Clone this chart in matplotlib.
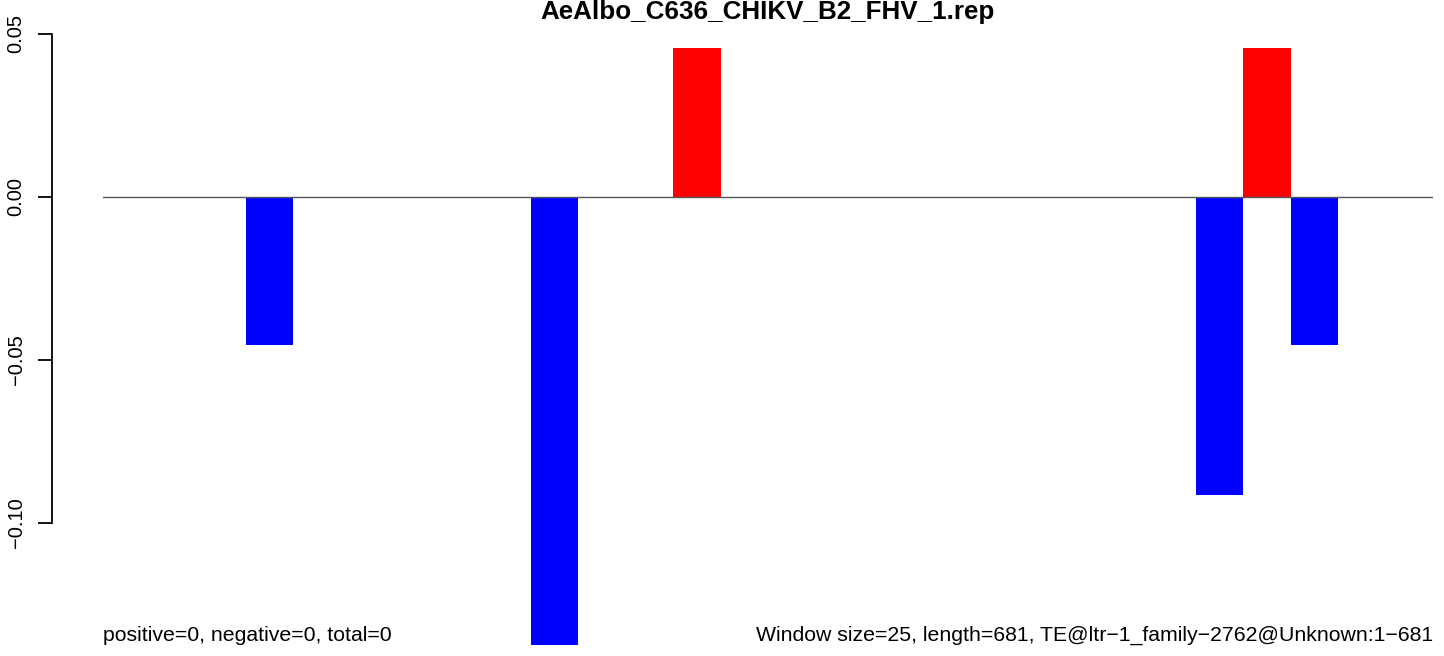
import matplotlib
matplotlib.use("Agg")
import matplotlib.pyplot as plt
import numpy as np

plt.rcParams['font.family'] = ['Liberation Sans', 'DejaVu Sans']

title = "AeAlbo_C636_CHIKV_B2_FHV_1.rep"
n_windows = 28
pos_idx = [12, 24]
pos_vals = [0.0455, 0.0455]
neg_idx = [3, 9, 23, 25]
neg_vals = [-0.0455, -0.1375, -0.0914, -0.0455]
yticks = [-0.10, -0.05, 0.00, 0.05]
left_text = "positive=0, negative=0, total=0"
right_text = "Window size=25, length=681, TE@ltr\u22121_family\u22122762@Unknown:1\u2212681"

W, H = 1444, 656
fig = plt.figure(figsize=(W / 100, H / 100), dpi=100)
x0, x1 = 103, 1433
y_top, y_bot = 24, 645
ax = fig.add_axes([x0 / W, 1 - y_bot / H, (x1 - x0) / W, (y_bot - y_top) / H])

ax.bar(neg_idx, neg_vals, width=1.0, align='edge', color='#0000FF', linewidth=0)
ax.bar(pos_idx, pos_vals, width=1.0, align='edge', color='#FF0000', linewidth=0)
ax.axhline(0, color='#555555', lw=1.0, zorder=3)

ax.set_xlim(0, n_windows)
ax.set_ylim(-0.13752, 0.05298)

for s in ['top', 'right', 'bottom']:
    ax.spines[s].set_visible(False)
ax.spines['left'].set_bounds(-0.10, 0.05)
ax.spines['left'].set_position(('outward', 51 * 0.72))
ax.spines['left'].set_linewidth(1.3)
ax.set_xticks([])
ax.set_yticks(yticks)
ax.set_yticklabels([f"{v:.2f}".replace('-', '\u2212') for v in yticks], rotation=90, va='center', fontsize=14.5)
ax.tick_params(axis='y', length=10, width=1.3, pad=9)

ax.set_title(title, fontweight='bold', fontsize=18.7, pad=0.5)
ax.text(0, 0.0, left_text, transform=ax.transAxes, ha='left', va='bottom', fontsize=15.3)
ax.text(1, 0.0, right_text, transform=ax.transAxes, ha='right', va='bottom', fontsize=15.3)

fig.savefig("out.png", dpi=100)
